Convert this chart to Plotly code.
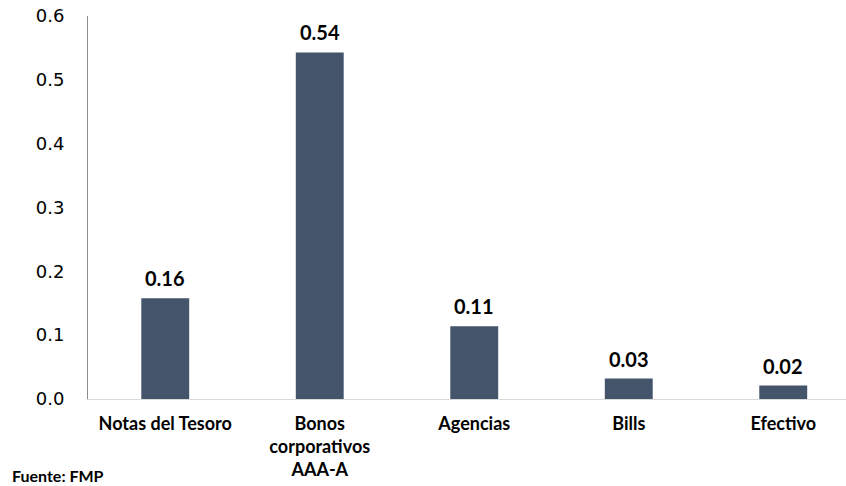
import plotly.graph_objects as go

categories = ["Notas del Tesoro", "Bonos<br>corporativos<br>AAA-A", "Agencias", "Bills", "Efectivo"]
values = [0.158, 0.543, 0.114, 0.032, 0.021]
y_ticks = [0.0, 0.1, 0.2, 0.3, 0.4, 0.5, 0.6]
y_tick_labels = ["0.0", "0.1", "0.2", "0.3", "0.4", "0.5", "0.6"]
source = "Fuente: FMP"

bar_color = "#44546a"

L, T, B = 88, 16, 87
W, H = 846, 486
plot_w = W - L
plot_h = H - T - B

fig = go.Figure()
fig.add_trace(go.Bar(
    x=list(range(len(categories))),
    y=values,
    width=0.31,
    marker=dict(color=bar_color, line=dict(width=0)),
    hoverinfo="skip",
))

annotations = []
for i, v in enumerate(values):
    annotations.append(dict(
        x=i, y=v, xref="x", yref="y",
        text=f"{v:.2f}", showarrow=False,
        yanchor="bottom", yshift=6,
        font=dict(family="Lato", size=20, color="#000000", weight="bold"),
    ))

fig.update_layout(
    width=W, height=H,
    margin=dict(l=L, r=0, t=T, b=B),
    paper_bgcolor="white", plot_bgcolor="white",
    showlegend=False,
    annotations=annotations + [dict(
        text=source, xref="paper", yref="paper",
        x=(10 - L) / plot_w, y=-76 / plot_h,
        xanchor="left", yanchor="middle", showarrow=False,
        font=dict(family="Lato", size=16, color="#000000", weight="bold"),
    )],
)

fig.update_xaxes(
    range=[-0.5, plot_w / 154.5 - 0.5],
    tickmode="array",
    tickvals=list(range(len(categories))),
    ticktext=categories,
    showgrid=False, zeroline=False,
    showline=True, linecolor="#d9d9d9", linewidth=1,
    ticks="", ticklabelstandoff=8,
    tickfont=dict(family="Lato", size=18, color="#000000", weight="bold"),
    automargin=False, ticklabeloverflow="allow",
    fixedrange=True,
)
fig.update_yaxes(
    range=[0, 0.6],
    tickmode="array",
    tickvals=y_ticks,
    ticktext=y_tick_labels,
    showgrid=False, zeroline=False,
    showline=True, linecolor="#8c8c8c", linewidth=1,
    ticks="", ticklabelstandoff=19,
    tickfont=dict(family="DejaVu Sans", size=18, color="#000000"),
    automargin=False, ticklabeloverflow="allow",
    fixedrange=True,
)

fig.write_html("out.html", config={"displayModeBar": False},
               post_script="document.body.style.margin='0';")
